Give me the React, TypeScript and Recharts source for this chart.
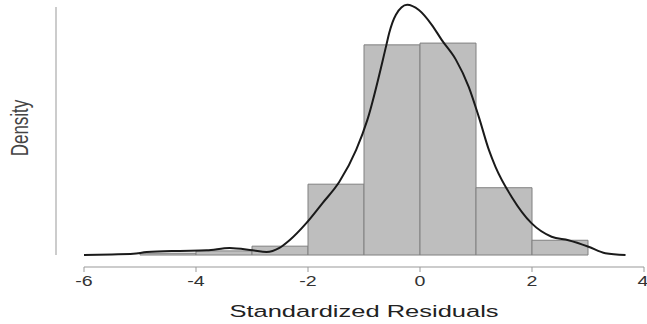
import React from 'react';
import {
  ComposedChart,
  Line,
  XAxis,
  YAxis,
  ReferenceArea,
  ReferenceLine,
  Label
} from 'recharts';

// histogram bins (width 1) and their densities
const binStarts = [-5, -4, -3, -2, -1, 0, 1, 2];
const binDensity = [0.003, 0.007, 0.015, 0.12, 0.356, 0.359, 0.114, 0.025];

// kernel density curve
const curveX = [
  -6, -5.5, -5.12, -4.88, -4.29, -3.81, -3.4, -2.99, -2.74, -2.51, -2.33, -2.03,
  -1.74, -1.44, -1.14, -0.94, -0.6, -0.55, -0.43, -0.23, -0.02, 0.21, 0.39, 0.64,
  0.87, 1.05, 1.23, 1.35, 1.64, 1.99, 2.35, 2.65, 3.01, 3.31, 3.67
];
const curveY = [
  0, 0.001, 0.002, 0.005, 0.007, 0.008, 0.012, 0.008, 0.005, 0.012, 0.025, 0.054,
  0.088, 0.124, 0.178, 0.229, 0.356, 0.376, 0.407, 0.424, 0.415, 0.39, 0.364, 0.331,
  0.285, 0.234, 0.178, 0.149, 0.098, 0.054, 0.031, 0.025, 0.014, 0.003, 0
];

const xTicks = [-6, -4, -2, 0, 2, 4];

const curveData = curveX.map((x, i) => ({ x, y: curveY[i] }));

const font = '"Liberation Sans", Arial, sans-serif';

function Tick(props: any) {
  const { x, y, payload } = props;
  return (
    <text
      transform={`translate(${x},${y + 12}) scale(1.4,1)`}
      textAnchor="middle"
      fontFamily={font}
      fontSize={14}
      fill="#333"
    >
      {payload.value}
    </text>
  );
}

function XTitle(props: any) {
  const { viewBox } = props;
  const cx = viewBox.x + viewBox.width / 2;
  return (
    <text
      transform={`translate(${cx},${viewBox.y + 50}) scale(1.5,1)`}
      textAnchor="middle"
      fontFamily={font}
      fontSize={17}
      fill="#222"
    >
      Standardized Residuals
    </text>
  );
}

function YTitle() {
  return (
    <text
      transform="translate(28,128) rotate(-90) scale(1,1.4)"
      textAnchor="middle"
      fontFamily={font}
      fontSize={17}
      fill="#444"
    >
      Density
    </text>
  );
}

export default function App() {
  return (
    <div style={{ position: 'absolute', left: 0, top: 0, width: 647, height: 324, background: '#fff' }}>
      <ComposedChart
        width={647}
        height={324}
        data={curveData}
        margin={{ top: 0, right: 3, left: 84, bottom: 0 }}
      >
        <XAxis
          dataKey="x"
          type="number"
          domain={[-6, 4]}
          ticks={xTicks}
          allowDataOverflow
          height={57}
          tickSize={5}
          stroke="#999"
          tick={<Tick />}
        >
          <Label content={<XTitle />} />
        </XAxis>
        <YAxis hide type="number" domain={[-0.0203, 0.432]} allowDataOverflow />
        {binStarts.map((b, i) => (
          <ReferenceArea
            key={b}
            x1={b}
            x2={b + 1}
            y1={0}
            y2={binDensity[i]}
            fill="#bebebe"
            fillOpacity={1}
            stroke="#808080"
            strokeWidth={1}
            ifOverflow="visible"
          />
        ))}
        <ReferenceLine
          segment={[{ x: -6.5, y: 0 }, { x: -6.5, y: 0.42 }]}
          stroke="#bbb"
          strokeWidth={1.5}
          ifOverflow="visible"
        />
        <Line
          dataKey="y"
          type="monotone"
          stroke="#1a1a1a"
          strokeWidth={2}
          dot={false}
          isAnimationActive={false}
        />
        <YTitle />
      </ComposedChart>
    </div>
  );
}
